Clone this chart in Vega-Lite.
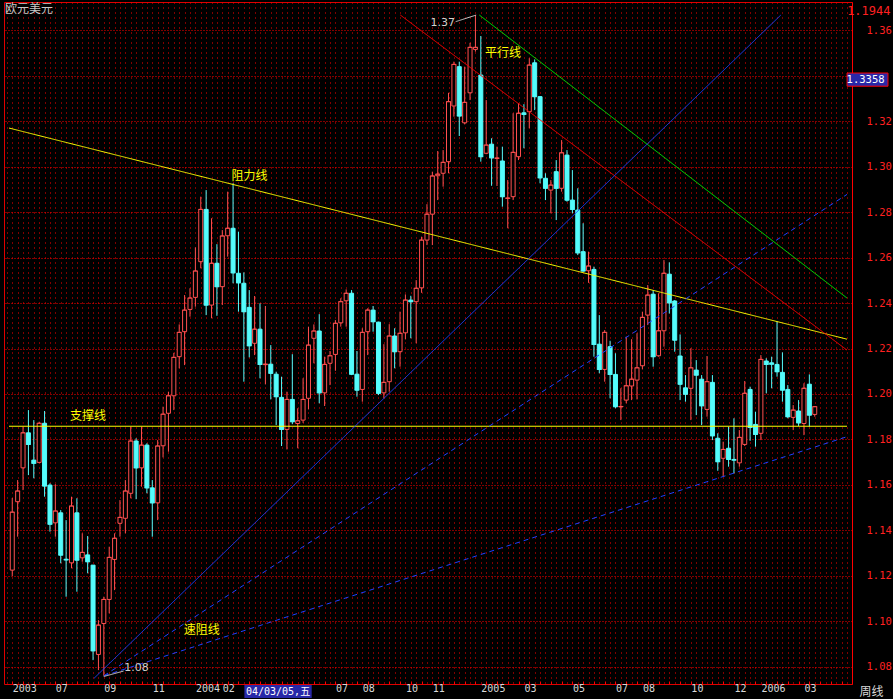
{
"$schema":"https://vega.github.io/schema/vega-lite/v6.json",
"width":848,"height":682,
"autosize":{"type":"none"},
"padding":{"left":4,"top":2,"right":41,"bottom":15},
"background":"#000000",
"title":{"text":"欧元美元","anchor":"start","frame":"group","offset":0,"dy":14,"dx":1,"font":"Noto Sans CJK SC","fontSize":12,"fontWeight":"normal","color":"#c8c8c8"},
"config":{"view":{"stroke":"#e00000","strokeWidth":1,"fill":"#000000"}},
"datasets":{
"candles":[
{"i":0,"o":1.1225,"h":1.1542,"l":1.1199,"c":1.1480},
{"i":1,"o":1.1526,"h":1.1621,"l":1.1372,"c":1.1573},
{"i":2,"o":1.1675,"h":1.1856,"l":1.1577,"c":1.1829},
{"i":3,"o":1.1829,"h":1.1929,"l":1.1643,"c":1.1778},
{"i":4,"o":1.1709,"h":1.1885,"l":1.1629,"c":1.1695},
{"i":5,"o":1.1699,"h":1.1878,"l":1.1695,"c":1.1871},
{"i":6,"o":1.1871,"h":1.1925,"l":1.1548,"c":1.1595},
{"i":7,"o":1.1599,"h":1.1607,"l":1.1394,"c":1.1427},
{"i":8,"o":1.1433,"h":1.1603,"l":1.1372,"c":1.1485},
{"i":9,"o":1.1477,"h":1.1489,"l":1.1255,"c":1.1291},
{"i":10,"o":1.1273,"h":1.1445,"l":1.1108,"c":1.1270},
{"i":11,"o":1.1257,"h":1.1548,"l":1.1233,"c":1.1507},
{"i":12,"o":1.1477,"h":1.1541,"l":1.1130,"c":1.1269},
{"i":13,"o":1.1279,"h":1.1387,"l":1.1262,"c":1.1303},
{"i":14,"o":1.1292,"h":1.1375,"l":1.1211,"c":1.1262},
{"i":15,"o":1.1247,"h":1.1247,"l":1.0829,"c":1.0870},
{"i":16,"o":1.0854,"h":1.1005,"l":1.0785,"c":1.0983},
{"i":17,"o":1.0990,"h":1.1108,"l":1.0760,"c":1.1096},
{"i":18,"o":1.1096,"h":1.1328,"l":1.1035,"c":1.1281},
{"i":19,"o":1.1272,"h":1.1387,"l":1.1137,"c":1.1365},
{"i":20,"o":1.1431,"h":1.1533,"l":1.1372,"c":1.1457},
{"i":21,"o":1.1453,"h":1.1621,"l":1.1387,"c":1.1573},
{"i":22,"o":1.1563,"h":1.1856,"l":1.1541,"c":1.1793},
{"i":23,"o":1.1793,"h":1.1805,"l":1.1537,"c":1.1675},
{"i":24,"o":1.1675,"h":1.1856,"l":1.1592,"c":1.1775},
{"i":25,"o":1.1775,"h":1.1783,"l":1.1563,"c":1.1587},
{"i":26,"o":1.1587,"h":1.1621,"l":1.1372,"c":1.1521},
{"i":27,"o":1.1521,"h":1.1797,"l":1.1445,"c":1.1771},
{"i":28,"o":1.1772,"h":1.1944,"l":1.1721,"c":1.1911},
{"i":29,"o":1.1915,"h":1.2010,"l":1.1746,"c":1.1992},
{"i":30,"o":1.1992,"h":1.2181,"l":1.1929,"c":1.2161},
{"i":31,"o":1.2164,"h":1.2306,"l":1.2113,"c":1.2271},
{"i":32,"o":1.2274,"h":1.2435,"l":1.2127,"c":1.2369},
{"i":33,"o":1.2372,"h":1.2465,"l":1.2340,"c":1.2422},
{"i":34,"o":1.2425,"h":1.2645,"l":1.2384,"c":1.2541},
{"i":35,"o":1.2582,"h":1.2868,"l":1.2553,"c":1.2812},
{"i":36,"o":1.2812,"h":1.2897,"l":1.2347,"c":1.2391},
{"i":37,"o":1.2391,"h":1.2773,"l":1.2333,"c":1.2575},
{"i":38,"o":1.2575,"h":1.2659,"l":1.2344,"c":1.2472},
{"i":39,"o":1.2472,"h":1.2721,"l":1.2391,"c":1.2695},
{"i":40,"o":1.2696,"h":1.2890,"l":1.2604,"c":1.2729},
{"i":41,"o":1.2729,"h":1.2927,"l":1.2487,"c":1.2533},
{"i":42,"o":1.2531,"h":1.2714,"l":1.2362,"c":1.2489},
{"i":43,"o":1.2487,"h":1.2535,"l":1.2054,"c":1.2362},
{"i":44,"o":1.2381,"h":1.2457,"l":1.2161,"c":1.2212},
{"i":45,"o":1.2223,"h":1.2431,"l":1.2171,"c":1.2285},
{"i":46,"o":1.2285,"h":1.2399,"l":1.2069,"c":1.2130},
{"i":47,"o":1.2129,"h":1.2387,"l":1.2042,"c":1.2131},
{"i":48,"o":1.2131,"h":1.2215,"l":1.1976,"c":1.2091},
{"i":49,"o":1.2087,"h":1.2098,"l":1.1863,"c":1.1988},
{"i":50,"o":1.1985,"h":1.2076,"l":1.1771,"c":1.1844},
{"i":51,"o":1.1844,"h":1.2010,"l":1.1756,"c":1.1976},
{"i":52,"o":1.1976,"h":1.2175,"l":1.1867,"c":1.1878},
{"i":53,"o":1.1870,"h":1.1937,"l":1.1761,"c":1.1882},
{"i":54,"o":1.1885,"h":1.2069,"l":1.1873,"c":1.1976},
{"i":55,"o":1.1981,"h":1.2296,"l":1.1932,"c":1.2215},
{"i":56,"o":1.2245,"h":1.2306,"l":1.2135,"c":1.2277},
{"i":57,"o":1.2277,"h":1.2351,"l":1.1959,"c":1.2005},
{"i":58,"o":1.2005,"h":1.2164,"l":1.1947,"c":1.2130},
{"i":59,"o":1.2135,"h":1.2189,"l":1.2039,"c":1.2168},
{"i":60,"o":1.2174,"h":1.2325,"l":1.2102,"c":1.2311},
{"i":61,"o":1.2313,"h":1.2421,"l":1.2296,"c":1.2406},
{"i":62,"o":1.2410,"h":1.2460,"l":1.2296,"c":1.2443},
{"i":63,"o":1.2443,"h":1.2457,"l":1.2083,"c":1.2087},
{"i":64,"o":1.2087,"h":1.2189,"l":1.1988,"c":1.2017},
{"i":65,"o":1.2020,"h":1.2289,"l":1.1966,"c":1.2271},
{"i":66,"o":1.2274,"h":1.2377,"l":1.2171,"c":1.2369},
{"i":67,"o":1.2369,"h":1.2387,"l":1.2274,"c":1.2318},
{"i":68,"o":1.2316,"h":1.2318,"l":1.1995,"c":1.2003},
{"i":69,"o":1.2005,"h":1.2219,"l":1.1981,"c":1.2051},
{"i":70,"o":1.2054,"h":1.2307,"l":1.2010,"c":1.2255},
{"i":71,"o":1.2255,"h":1.2289,"l":1.2113,"c":1.2186},
{"i":72,"o":1.2186,"h":1.2362,"l":1.2120,"c":1.2267},
{"i":73,"o":1.2269,"h":1.2438,"l":1.2240,"c":1.2413},
{"i":74,"o":1.2413,"h":1.2432,"l":1.2245,"c":1.2406},
{"i":75,"o":1.2406,"h":1.2501,"l":1.2223,"c":1.2465},
{"i":76,"o":1.2467,"h":1.2692,"l":1.2445,"c":1.2677},
{"i":77,"o":1.2677,"h":1.2835,"l":1.2655,"c":1.2791},
{"i":78,"o":1.2791,"h":1.2978,"l":1.2655,"c":1.2959},
{"i":79,"o":1.2960,"h":1.3069,"l":1.2853,"c":1.2967},
{"i":80,"o":1.2971,"h":1.3073,"l":1.2912,"c":1.3019},
{"i":81,"o":1.3022,"h":1.3325,"l":1.2971,"c":1.3286},
{"i":82,"o":1.3267,"h":1.3462,"l":1.3220,"c":1.3450},
{"i":83,"o":1.3440,"h":1.3462,"l":1.3135,"c":1.3223},
{"i":84,"o":1.3193,"h":1.3440,"l":1.3186,"c":1.3283},
{"i":85,"o":1.3325,"h":1.3545,"l":1.3293,"c":1.3525},
{"i":86,"o":1.3516,"h":1.3667,"l":1.3506,"c":1.3525},
{"i":87,"o":1.3403,"h":1.3575,"l":1.3022,"c":1.3044},
{"i":88,"o":1.3059,"h":1.3293,"l":1.3055,"c":1.3095},
{"i":89,"o":1.3099,"h":1.3125,"l":1.2916,"c":1.3039},
{"i":90,"o":1.3036,"h":1.3088,"l":1.2915,"c":1.3038},
{"i":91,"o":1.3025,"h":1.3088,"l":1.2824,"c":1.2868},
{"i":92,"o":1.2860,"h":1.2941,"l":1.2729,"c":1.2862},
{"i":93,"o":1.2868,"h":1.3235,"l":1.2853,"c":1.3063},
{"i":94,"o":1.3044,"h":1.3279,"l":1.3029,"c":1.3235},
{"i":95,"o":1.3237,"h":1.3275,"l":1.3081,"c":1.3230},
{"i":96,"o":1.3242,"h":1.3477,"l":1.3169,"c":1.3447},
{"i":97,"o":1.3457,"h":1.3472,"l":1.3249,"c":1.3308},
{"i":98,"o":1.3308,"h":1.3311,"l":1.2927,"c":1.2951},
{"i":99,"o":1.2949,"h":1.2971,"l":1.2853,"c":1.2905},
{"i":100,"o":1.2897,"h":1.2941,"l":1.2795,"c":1.2919},
{"i":101,"o":1.2978,"h":1.3029,"l":1.2765,"c":1.2905},
{"i":102,"o":1.2905,"h":1.3117,"l":1.2890,"c":1.3061},
{"i":103,"o":1.3051,"h":1.3073,"l":1.2846,"c":1.2853},
{"i":104,"o":1.2853,"h":1.2985,"l":1.2795,"c":1.2812},
{"i":105,"o":1.2809,"h":1.2905,"l":1.2611,"c":1.2621},
{"i":106,"o":1.2626,"h":1.2751,"l":1.2538,"c":1.2541},
{"i":107,"o":1.2542,"h":1.2626,"l":1.2489,"c":1.2563},
{"i":108,"o":1.2548,"h":1.2560,"l":1.2164,"c":1.2218},
{"i":109,"o":1.2219,"h":1.2347,"l":1.2091,"c":1.2108},
{"i":110,"o":1.2108,"h":1.2281,"l":1.2054,"c":1.2271},
{"i":111,"o":1.2208,"h":1.2234,"l":1.1981,"c":1.2086},
{"i":112,"o":1.2086,"h":1.2179,"l":1.1937,"c":1.1944},
{"i":113,"o":1.1943,"h":1.2025,"l":1.1885,"c":1.1945},
{"i":114,"o":1.1973,"h":1.2252,"l":1.1959,"c":1.2036},
{"i":115,"o":1.2035,"h":1.2241,"l":1.1973,"c":1.2065},
{"i":116,"o":1.2061,"h":1.2267,"l":1.1976,"c":1.2115},
{"i":117,"o":1.2124,"h":1.2362,"l":1.2108,"c":1.2337},
{"i":118,"o":1.2347,"h":1.2479,"l":1.2303,"c":1.2435},
{"i":119,"o":1.2439,"h":1.2457,"l":1.2120,"c":1.2164},
{"i":120,"o":1.2168,"h":1.2443,"l":1.2164,"c":1.2278},
{"i":121,"o":1.2278,"h":1.2589,"l":1.2208,"c":1.2531},
{"i":122,"o":1.2527,"h":1.2579,"l":1.2354,"c":1.2401},
{"i":123,"o":1.2409,"h":1.2413,"l":1.2186,"c":1.2237},
{"i":124,"o":1.2167,"h":1.2262,"l":1.1973,"c":1.2043},
{"i":125,"o":1.2027,"h":1.2083,"l":1.1966,"c":1.1999},
{"i":126,"o":1.2025,"h":1.2201,"l":1.1885,"c":1.2115},
{"i":127,"o":1.2105,"h":1.2149,"l":1.1907,"c":1.2083},
{"i":128,"o":1.2065,"h":1.2083,"l":1.1863,"c":1.1948},
{"i":129,"o":1.1932,"h":1.2167,"l":1.1900,"c":1.2054},
{"i":130,"o":1.2051,"h":1.2083,"l":1.1797,"c":1.1816},
{"i":131,"o":1.1805,"h":1.1827,"l":1.1662,"c":1.1702},
{"i":132,"o":1.1717,"h":1.1790,"l":1.1636,"c":1.1756},
{"i":133,"o":1.1761,"h":1.1856,"l":1.1680,"c":1.1712},
{"i":134,"o":1.1712,"h":1.1893,"l":1.1651,"c":1.1709},
{"i":135,"o":1.1697,"h":1.1841,"l":1.1680,"c":1.1809},
{"i":136,"o":1.1778,"h":1.2057,"l":1.1771,"c":1.2003},
{"i":137,"o":1.2020,"h":1.2032,"l":1.1794,"c":1.1853},
{"i":138,"o":1.1866,"h":1.1922,"l":1.1768,"c":1.1822},
{"i":139,"o":1.1827,"h":1.2171,"l":1.1797,"c":1.2152},
{"i":140,"o":1.2145,"h":1.2157,"l":1.2003,"c":1.2130},
{"i":141,"o":1.2137,"h":1.2164,"l":1.2025,"c":1.2131},
{"i":142,"o":1.2130,"h":1.2318,"l":1.2076,"c":1.2098},
{"i":143,"o":1.2095,"h":1.2183,"l":1.1966,"c":1.2017},
{"i":144,"o":1.2020,"h":1.2039,"l":1.1893,"c":1.1900},
{"i":145,"o":1.1897,"h":1.1951,"l":1.1841,"c":1.1929},
{"i":146,"o":1.1925,"h":1.1973,"l":1.1859,"c":1.1873},
{"i":147,"o":1.1870,"h":1.2047,"l":1.1819,"c":1.2025},
{"i":148,"o":1.2043,"h":1.2086,"l":1.1856,"c":1.1907},
{"i":149,"o":1.1910,"h":1.1946,"l":1.1900,"c":1.1944}
],
"lines":[
{"id":"res","i":-0.6055,"p":1.3170},{"id":"res","i":154.99,"p":1.2241},
{"id":"sup","i":-0.6055,"p":1.1858},{"id":"sup","i":154.99,"p":1.1858},
{"id":"par1","i":72.06,"p":1.3667},{"id":"par1","i":154.99,"p":1.2193},
{"id":"par2","i":86.73,"p":1.3667},{"id":"par2","i":154.99,"p":1.2422},
{"id":"spd1","i":15.18,"p":1.0749},{"id":"spd1","i":142.7,"p":1.3667},
{"id":"spd2","i":17,"p":1.0760},{"id":"spd2","i":154.99,"p":1.2878},
{"id":"spd3","i":17,"p":1.0760},{"id":"spd3","i":154.99,"p":1.1812},
{"id":"lead1","i":17,"p":1.0757},{"id":"lead1","i":20.68,"p":1.0781},
{"id":"lead2","i":82.33,"p":1.3638},{"id":"lead2","i":86.13,"p":1.3667}
],
"notes":[
{"t":"支撑线","i":14.07,"p":1.1903},
{"t":"阻力线","i":44.07,"p":1.2959},
{"t":"平行线","i":91.14,"p":1.3502},
{"t":"速阻线","i":35.17,"p":1.0961}
],
"vals":[
{"t":"1.08","i":23.06,"p":1.0794},
{"t":"1.37","i":79.94,"p":1.3634}
]
},
"layer":[
{"data":{"name":"candles"},
 "mark":{"type":"rule","strokeWidth":1},
 "encoding":{
  "x":{"field":"i","type":"quantitative","scale":{"domain":[-0.6055,154.99],"nice":false,"zero":false},
   "axis":{"orient":"bottom","tickCount":155,"grid":true,"gridColor":"#ff0000","gridDash":[1,4],"gridOpacity":1,"gridWidth":1,
    "domain":false,"ticks":true,"tickColor":"#ff0000","tickSize":-3,"tickOpacity":{"condition":{"test":"datum.value % 2 === 0","value":1},"value":0},
    "labelExpr":"indexof([0,8,17,26,34,39,60,65,73,78,87,95,104,112,117,126,134,139,147], datum.value) >= 0 ? ['2003','07','09','11','2004','02','07','08','10','11','2005','03','05','07','08','10','12','2006','03'][indexof([0,8,17,26,34,39,60,65,73,78,87,95,104,112,117,126,134,139,147], datum.value)] : ''",
    "labelColor":"#d8d8d8","labelFont":"DejaVu Sans Mono","labelFontSize":10,"labelAlign":"left","labelBaseline":"middle","labelDx":0,"labelPadding":7,"labelOverlap":false,"labelFlush":false,"labelBound":false,
    "title":"周线","titleX":867,"titleY":7,"titleAlign":"center","titleBaseline":"middle","titleColor":"#d8d8d8","titleFont":"Noto Sans CJK SC","titleFontSize":12,"titleFontWeight":"normal"}},
  "y":{"field":"l","type":"quantitative","scale":{"domain":[1.072394,1.372451],"nice":false,"zero":false},
   "axis":{"orient":"right","values":[1.08,1.10,1.12,1.14,1.16,1.18,1.20,1.22,1.24,1.26,1.28,1.30,1.32,1.34,1.36],
    "labelExpr":"abs(datum.value - 1.34) < 0.001 ? '' : format(datum.value, '.2f')",
    "grid":true,"gridColor":"#ff0000","gridDash":[1,2],"gridWidth":1,
    "domain":true,"domainColor":"#ff0000","ticks":false,"labelColor":"#ff2020","labelFont":"DejaVu Sans Mono","labelFontSize":10.5,"labelPadding":14,"labelBaseline":"middle","labelOverlap":false,
    "title":"1.1944","titleAngle":0,"titleX":38,"titleY":8,"titleAlign":"right","titleBaseline":"middle","titleColor":"#ff2020","titleFont":"DejaVu Sans Mono","titleFontSize":12,"titleFontWeight":"normal"}},
  "y2":{"field":"h"},
  "color":{"condition":{"test":"datum.c >= datum.o","value":"#ff5050"},"value":"#54fcfc"}
 }},
{"data":{"name":"candles"},
 "mark":{"type":"bar","size":4,"strokeWidth":1},
 "encoding":{
  "x":{"field":"i","type":"quantitative","scale":{"domain":[-0.6055,154.99],"nice":false,"zero":false}},
  "y":{"field":"o","type":"quantitative","scale":{"domain":[1.072394,1.372451],"nice":false,"zero":false}},
  "y2":{"field":"c"},
  "fill":{"condition":{"test":"datum.c >= datum.o","value":"#000000"},"value":"#54fcfc"},
  "stroke":{"condition":{"test":"datum.c >= datum.o","value":"#ff5050"},"value":"#54fcfc"}
 }},
{"data":{"name":"candles"},
 "mark":{"type":"tick","orient":"horizontal","size":5,"thickness":1},
 "encoding":{
  "x":{"field":"i","type":"quantitative","scale":{"domain":[-0.6055,154.99],"nice":false,"zero":false}},
  "y":{"field":"c","type":"quantitative","scale":{"domain":[1.072394,1.372451],"nice":false,"zero":false}},
  "color":{"condition":{"test":"datum.c >= datum.o","value":"#ff5050"},"value":"#54fcfc"}
 }},
{"data":{"name":"lines"},
 "mark":{"type":"line","strokeWidth":1},
 "encoding":{
  "x":{"field":"i","type":"quantitative","scale":{"domain":[-0.6055,154.99],"nice":false,"zero":false}},
  "y":{"field":"p","type":"quantitative","scale":{"domain":[1.072394,1.372451],"nice":false,"zero":false}},
  "color":{"field":"id","type":"nominal","legend":null,"scale":{"domain":["res","sup","par1","par2","spd1","spd2","spd3","lead1","lead2"],"range":["#ffff00","#ffff00","#ff0000","#00ee00","#2040ff","#2040ff","#2040ff","#d0d0d0","#d0d0d0"]}},
  "strokeDash":{"field":"id","type":"nominal","legend":null,"scale":{"domain":["res","sup","par1","par2","spd1","spd2","spd3","lead1","lead2"],"range":[[1,0],[1,0],[1,0],[1,0],[1,0],[5,4],[5,4],[1,0],[1,0]]}}
 }},
{"data":{"name":"notes"},
 "mark":{"type":"text","font":"Noto Sans CJK SC","fontSize":12,"fill":"#ffff00","align":"center","baseline":"middle"},
 "encoding":{
  "x":{"field":"i","type":"quantitative","scale":{"domain":[-0.6055,154.99],"nice":false,"zero":false}},
  "y":{"field":"p","type":"quantitative","scale":{"domain":[1.072394,1.372451],"nice":false,"zero":false}},
  "text":{"field":"t"}
 }},
{"data":{"name":"vals"},
 "mark":{"type":"text","font":"DejaVu Sans","fontSize":11,"fill":"#d0d0d0","align":"center","baseline":"middle"},
 "encoding":{
  "x":{"field":"i","type":"quantitative","scale":{"domain":[-0.6055,154.99],"nice":false,"zero":false}},
  "y":{"field":"p","type":"quantitative","scale":{"domain":[1.072394,1.372451],"nice":false,"zero":false}},
  "text":{"field":"t"}
 }},
{"data":{"values":[{}]},
 "mark":{"type":"rect","fill":"#2828a8"},
 "encoding":{
  "x":{"datum":43.1,"type":"quantitative","scale":{"domain":[-0.6055,154.99],"nice":false,"zero":false}},
  "x2":{"datum":55.6},
  "y":{"datum":1.0720,"type":"quantitative","scale":{"domain":[1.072394,1.372451],"nice":false,"zero":false}},
  "y2":{"datum":1.0662}
 }},
{"data":{"values":[{}]},
 "mark":{"type":"text","font":"DejaVu Sans Mono, Noto Sans CJK SC","fontSize":10,"fill":"#ffffff","align":"center","baseline":"middle"},
 "encoding":{
  "x":{"datum":49.35,"type":"quantitative","scale":{"domain":[-0.6055,154.99],"nice":false,"zero":false}},
  "y":{"datum":1.0690,"type":"quantitative","scale":{"domain":[1.072394,1.372451],"nice":false,"zero":false}},
  "text":{"value":"04/03/05,五"}
 }},
{"data":{"values":[{}]},
 "mark":{"type":"rect","fill":"#2828a8","stroke":"#ff0000","strokeWidth":1},
 "encoding":{
  "x":{"datum":155.0,"type":"quantitative","scale":{"domain":[-0.6055,154.99],"nice":false,"zero":false}},
  "x2":{"datum":162.6},
  "y":{"datum":1.3412,"type":"quantitative","scale":{"domain":[1.072394,1.372451],"nice":false,"zero":false}},
  "y2":{"datum":1.3354}
 }},
{"data":{"values":[{}]},
 "mark":{"type":"text","font":"DejaVu Sans Mono","fontSize":10.5,"fill":"#ffffff","align":"right","baseline":"middle"},
 "encoding":{
  "x":{"datum":161.96,"type":"quantitative","scale":{"domain":[-0.6055,154.99],"nice":false,"zero":false}},
  "y":{"datum":1.3383,"type":"quantitative","scale":{"domain":[1.072394,1.372451],"nice":false,"zero":false}},
  "text":{"value":"1.3358"}
 }}
]
}
